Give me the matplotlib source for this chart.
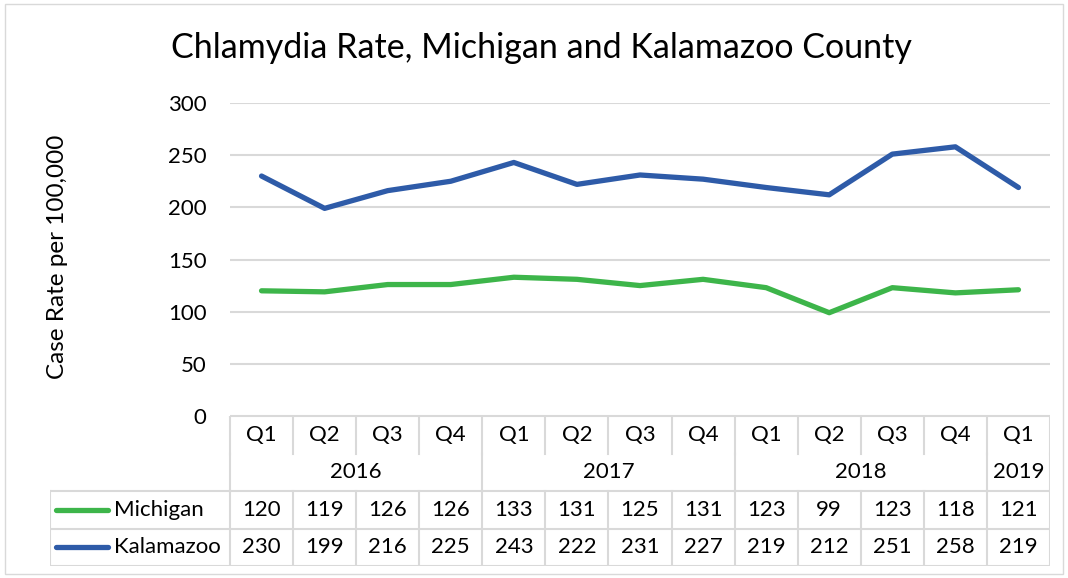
import matplotlib.pyplot as plt

plt.rcParams['font.family'] = ['Lato', 'DejaVu Sans']

# data
quarters = ['Q1', 'Q2', 'Q3', 'Q4', 'Q1', 'Q2', 'Q3', 'Q4', 'Q1', 'Q2', 'Q3', 'Q4', 'Q1']
years = ['2016', '2017', '2018', '2019']
year_sizes = [4, 4, 4, 1]
michigan = [120, 119, 126, 126, 133, 131, 125, 131, 123, 99, 123, 118, 121]
kalamazoo = [230, 199, 216, 225, 243, 222, 231, 227, 219, 212, 251, 258, 219]

green = '#3DB54A'
blue = '#2E5BA8'
grid_c = '#D9D9D9'
W, H = 1068, 578
fs = 16

fig = plt.figure(figsize=(W / 100, H / 100), dpi=100)

# plot area in pixels: x 230..1050, y 103..416
ax = fig.add_axes([230 / W, 1 - 416 / H, 820 / W, 313 / H])
x = list(range(len(quarters)))
ax.plot(x, michigan, color=green, lw=3.8, solid_capstyle='round', solid_joinstyle='round')
ax.plot(x, kalamazoo, color=blue, lw=3.8, solid_capstyle='round', solid_joinstyle='round')
ax.set_xlim(-0.5, len(quarters) - 0.5)
ax.set_ylim(0, 300)
ax.set_yticks(range(0, 301, 50))
ax.set_xticks([])
ax.yaxis.grid(True, color=grid_c, lw=1.5)
ax.set_axisbelow(True)
for s in ax.spines.values():
    s.set_visible(False)
ax.tick_params(axis='y', length=0, pad=17, labelsize=fs)

fig.text(541 / W, 1 - 48 / H, 'Chlamydia Rate, Michigan and Kalamazoo County',
         ha='center', va='center', fontsize=24.5)
fig.text(58 / W, 1 - 257 / H, 'Case Rate per 100,000', rotation=90,
         ha='center', va='center', fontsize=17.5)

# data table below the plot: x 50..1050, y 416..566
colw = 820 / len(quarters)
leg_left = -0.5 - 180 / colw
tab = fig.add_axes([50 / W, 1 - 566 / H, 1000 / W, 150 / H])
tab.set_xlim(leg_left, len(quarters) - 0.5)
tab.set_ylim(4, 0)
tab.axis('off')

lw_t = 1.5
n = len(quarters)
tab.plot([-0.5, n - 0.5], [0, 0], color=grid_c, lw=lw_t)
for yy in [2, 3, 4]:
    tab.plot([leg_left, n - 0.5], [yy, yy], color=grid_c, lw=lw_t)
tab.plot([leg_left, leg_left], [2, 4], color=grid_c, lw=lw_t)
bounds = [0]
for s in year_sizes:
    bounds.append(bounds[-1] + s)
for k in range(n + 1):
    xx = k - 0.5
    tab.plot([xx, xx], [0, 1], color=grid_c, lw=lw_t)
    tab.plot([xx, xx], [2, 4], color=grid_c, lw=lw_t)
    if k in bounds:
        tab.plot([xx, xx], [1, 2], color=grid_c, lw=lw_t)

for i, q in enumerate(quarters):
    tab.text(i, 0.5, q, ha='center', va='center', fontsize=fs)
    tab.text(i, 2.5, str(michigan[i]), ha='center', va='center', fontsize=fs)
    tab.text(i, 3.5, str(kalamazoo[i]), ha='center', va='center', fontsize=fs)
for j, yr in enumerate(years):
    mid = (bounds[j] + bounds[j + 1] - 1) / 2
    tab.text(mid, 1.5, yr, ha='center', va='center', fontsize=fs)

sx0 = leg_left + 6 / colw
sx1 = leg_left + 58 / colw
for row, name, c in [(2.5, 'Michigan', green), (3.5, 'Kalamazoo', blue)]:
    tab.plot([sx0, sx1], [row, row], color=c, lw=3.8, solid_capstyle='round')
    tab.text(sx1 + 6 / colw, row, name, ha='left', va='center', fontsize=fs)

# chart border
fig.patches.append(plt.Rectangle((5 / W, 4 / H), 1058 / W, 570 / H, transform=fig.transFigure,
                                 fill=False, edgecolor=grid_c, lw=1))

fig.savefig('out.png', dpi=100)
